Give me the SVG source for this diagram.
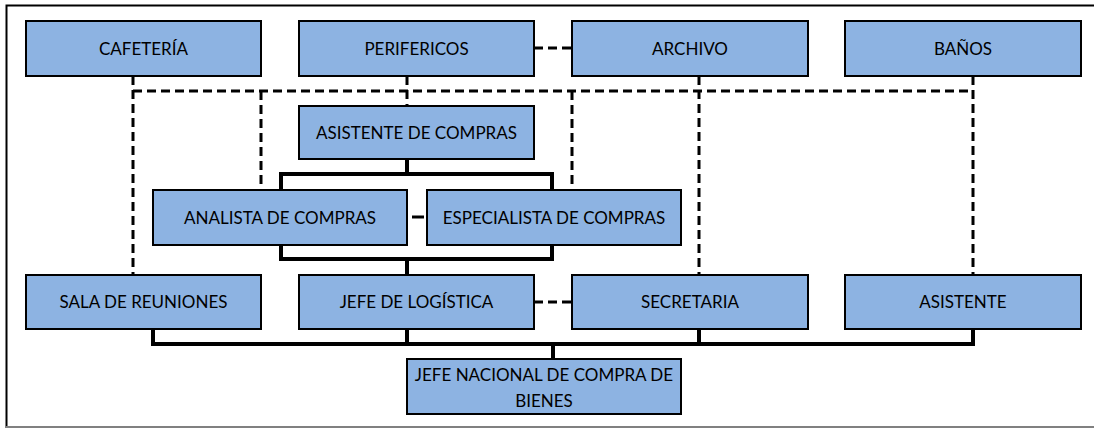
<svg xmlns="http://www.w3.org/2000/svg" width="1094" height="428" viewBox="0 0 1094 428">
<style>
.box{fill:#8DB3E2;stroke:#000;stroke-width:2}
.t{font-family:Lato,"Liberation Sans",sans-serif;font-size:17px;fill:#000;text-anchor:middle}
.solid{stroke:#000;stroke-width:4;fill:none;stroke-linecap:square}
.dash{stroke:#000;stroke-width:3;fill:none;stroke-dasharray:9 5}
</style>
<rect x="0" y="0" width="1094" height="428" fill="#fff"/>
<path d="M6.5 428 V5.5 H1094" fill="none" stroke="#000" stroke-width="2"/>
<line x1="6" y1="427" x2="1094" y2="427" stroke="#808080" stroke-width="2"/>
<g id="connectors">
<path class="dash" d="M534 48 H572"/>
<path class="dash" d="M534 302 H572"/>
<path class="dash" d="M133 91 H973"/>
<path class="dash" d="M133 76 V275"/>
<path class="dash" d="M261 91 V190"/>
<path class="dash" d="M407 76 V106"/>
<path class="dash" d="M572 91 V190"/>
<path class="dash" d="M699 76 V275"/>
<path class="dash" d="M973 76 V275"/>
<path class="dash" d="M412 217 H424" style="stroke-dasharray:none"/>
<path class="solid" d="M407 159 V174"/>
<path class="solid" d="M281 190 V174 H552 V190"/>
<path class="solid" d="M281 245 V259 H552 V245"/>
<path class="solid" d="M407 259 V275"/>
<path class="solid" d="M153 329 V344 H973 V329"/>
<path class="solid" d="M407 329 V344"/>
<path class="solid" d="M699 329 V344"/>
<path class="solid" d="M553 344 V359"/>
</g>
<g id="cafeteria"><rect class="box" x="26" y="21" width="235" height="55"/><text class="t" x="143.5" y="54.5">CAFETERÍA</text></g>
<g id="perifericos"><rect class="box" x="299" y="21" width="235" height="55"/><text class="t" x="416.5" y="54.5">PERIFERICOS</text></g>
<g id="archivo"><rect class="box" x="572" y="21" width="236" height="55"/><text class="t" x="690" y="54.5">ARCHIVO</text></g>
<g id="banos"><rect class="box" x="845" y="21" width="236" height="55"/><text class="t" x="963" y="54.5">BAÑOS</text></g>
<g id="asistente-compras"><rect class="box" x="299" y="106" width="235" height="53"/><text class="t" x="416.5" y="138.5">ASISTENTE DE COMPRAS</text></g>
<g id="analista"><rect class="box" x="153" y="190" width="254" height="55"/><text class="t" x="280" y="223.5">ANALISTA DE COMPRAS</text></g>
<g id="especialista"><rect class="box" x="427" y="190" width="254" height="55"/><text class="t" x="554" y="223.5">ESPECIALISTA DE COMPRAS</text></g>
<g id="sala"><rect class="box" x="26" y="275" width="235" height="54"/><text class="t" x="143.5" y="308">SALA DE REUNIONES</text></g>
<g id="jefe-logistica"><rect class="box" x="299" y="275" width="235" height="54"/><text class="t" x="416.5" y="308">JEFE DE LOGÍSTICA</text></g>
<g id="secretaria"><rect class="box" x="572" y="275" width="236" height="54"/><text class="t" x="690" y="308">SECRETARIA</text></g>
<g id="asistente"><rect class="box" x="845" y="275" width="236" height="54"/><text class="t" x="963" y="308">ASISTENTE</text></g>
<g id="jefe-nacional"><rect class="box" x="407" y="359" width="274" height="55"/><text class="t" x="544" y="381">JEFE NACIONAL DE COMPRA DE</text><text class="t" x="544" y="407">BIENES</text></g>
</svg>
